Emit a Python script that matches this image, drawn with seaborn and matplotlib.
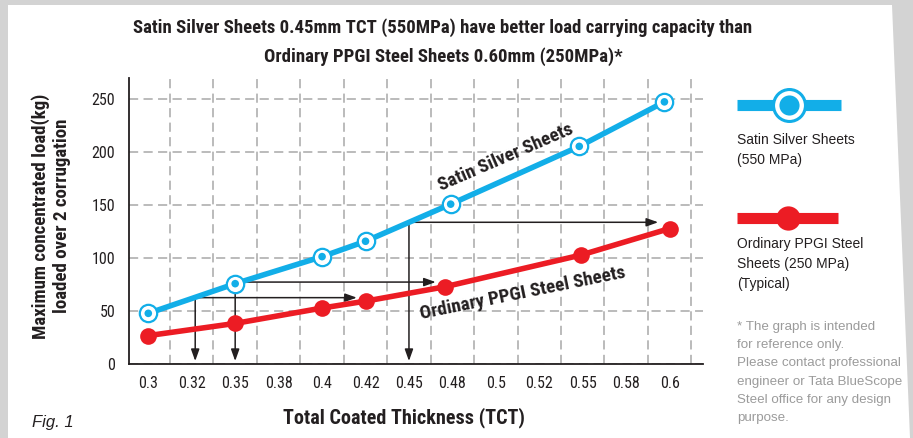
import numpy as np
import pandas as pd
import matplotlib
matplotlib.use("Agg")
import matplotlib.pyplot as plt
from matplotlib import font_manager
from matplotlib.patches import Polygon
from matplotlib.lines import Line2D
import seaborn as sns

# ---- data ----
thk_satin = [0.3, 0.35, 0.4, 0.425, 0.474, 0.548, 0.597]
load_satin = [47.5, 75.5, 101, 115.5, 150.5, 205, 247]
thk_ppgi = [0.3, 0.35, 0.4, 0.425, 0.4705, 0.549, 0.6]
load_ppgi = [26.5, 38, 52.5, 59, 72.5, 102.5, 127.5]
tick_pos = [0.3, 0.325, 0.35, 0.375, 0.4, 0.425, 0.45, 0.475, 0.5, 0.525, 0.55, 0.575, 0.6]
tick_labels = ["0.3", "0.32", "0.35", "0.38", "0.4", "0.42", "0.45", "0.48", "0.5", "0.52", "0.55", "0.58", "0.6"]
y_ticks = [0, 50, 100, 150, 200, 250]
# comparison arrows: (x, y, x_end)
arrows = [(0.327, 62.3, 0.42), (0.35, 77.0, 0.4654), (0.45, 133.4, 0.5934)]

sns.set_style("white")
names = {f.name for f in font_manager.fontManager.ttflist}
NARROW = "Liberation Sans"
for cand in ["Roboto Condensed", "Liberation Sans Narrow", "Archivo Narrow"]:
    if cand in names:
        NARROW = cand
        break
REG = "Liberation Sans"
plt.rcParams["font.family"] = [REG, "DejaVu Sans"]

BLUE = "#12aee8"
RED = "#ec1c24"
DARK = "#231f20"
GRID = "#a8a8a8"

W, H = 913, 438
fig = plt.figure(figsize=(W / 100, H / 100), dpi=100)

bg = fig.add_axes([0, 0, 1, 1], zorder=0)
bg.set_xlim(0, W)
bg.set_ylim(H, 0)
bg.axis("off")
bg.add_patch(plt.Rectangle((0, 0), W, H, color="#d3d3d3", zorder=0))
bg.add_patch(Polygon([(8, 5), (892, 5), (910, 438), (8, 438)], closed=True,
                     facecolor="white", edgecolor="none", zorder=1))

L, R, B, T = 129, 703, 363.7, 78
ax = fig.add_axes([L / W, (H - B) / H, (R - L) / W, (B - T) / H], zorder=2)
ax.set_facecolor("none")

df_s = pd.DataFrame({"thk": thk_satin, "load": load_satin})
df_p = pd.DataFrame({"thk": thk_ppgi, "load": load_ppgi})

sns.lineplot(data=df_s, x="thk", y="load", ax=ax, color=BLUE, lw=4, zorder=4,
             marker="o", markersize=12.5, markerfacecolor="white",
             markeredgecolor=BLUE, markeredgewidth=1.6)
sns.scatterplot(data=df_s, x="thk", y="load", ax=ax, color=BLUE, s=30,
                edgecolor="none", zorder=6)
sns.lineplot(data=df_p, x="thk", y="load", ax=ax, color=RED, lw=4, zorder=4,
             marker="o", markersize=12, markerfacecolor=RED,
             markeredgecolor=RED, markeredgewidth=0)

ax.set_xlim(0.2889, 0.6192)
ax.set_ylim(0, 269.5)
ax.set_xticks(tick_pos)
ax.set_xticklabels(tick_labels, fontfamily=NARROW, fontsize=11.5, color=DARK)
ax.set_xticks([p + 0.0125 for p in tick_pos], minor=True)
ax.set_yticks(y_ticks)
ax.set_yticklabels([str(v) for v in y_ticks], fontfamily=NARROW, fontsize=11.5, color=DARK)
ax.tick_params(axis="x", which="major", length=0, pad=9)
ax.tick_params(axis="x", which="minor", length=5, width=1, color=GRID, direction="out")
ax.tick_params(axis="y", which="major", length=6, width=1, color=GRID, pad=4)
ax.grid(axis="x", which="minor", color=GRID, ls=(0, (6, 3.5)), lw=1.1, zorder=0)
ax.grid(axis="y", which="major", color=GRID, ls=(0, (6, 3.5)), lw=1.1, zorder=0)
ax.set_axisbelow(True)
for s in ["top", "right"]:
    ax.spines[s].set_visible(False)
for s in ["left", "bottom"]:
    ax.spines[s].set_color(DARK)
    ax.spines[s].set_linewidth(1.3)

ax.set_xlabel("Total Coated Thickness (TCT)", fontfamily=NARROW, fontsize=14.5,
              fontweight="bold", color=DARK)
ax.xaxis.set_label_coords((404 - L) / (R - L), -(418 - B) / (B - T), transform=ax.transAxes)
ax.xaxis.label.set_va("center")
ax.set_ylabel("Maximum concentrated load(kg)\nloaded over 2 corrugation", fontfamily=NARROW,
              fontsize=13.6, fontweight="bold", color=DARK, linespacing=1.2)
ax.yaxis.set_label_coords(-(L - 51) / (R - L), (B - 216) / (B - T), transform=ax.transAxes)
ax.yaxis.label.set_va("center")

ap = dict(arrowstyle="-|>,head_length=0.7,head_width=0.25", color=DARK, lw=1.1,
          shrinkA=0, shrinkB=0)
for (x0, y0, x1) in arrows:
    ax.annotate("", xy=(x0, 2.5), xytext=(x0, y0), arrowprops=ap, zorder=3)
    ax.annotate("", xy=(x1, y0), xytext=(x0, y0), arrowprops=ap, zorder=3)

ax.text(0.5057, 195, "Satin Silver Sheets", rotation=23.5, rotation_mode="anchor",
        ha="center", va="center", fontfamily=NARROW, fontsize=13.8, fontweight="bold", color=DARK)
ax.text(0.5154, 66.2, "Ordinary PPGI Steel Sheets", rotation=11.5, rotation_mode="anchor",
        ha="center", va="center", fontfamily=NARROW, fontsize=13.8, fontweight="bold", color=DARK)

bg.text(443, 28, "Satin Silver Sheets 0.45mm TCT (550MPa) have better load carrying capacity than",
        ha="center", va="center", fontfamily=NARROW, fontsize=13.5, fontweight="bold", color=DARK, zorder=3)
bg.text(443, 57, "Ordinary PPGI Steel Sheets 0.60mm (250MPa)*",
        ha="center", va="center", fontfamily=NARROW, fontsize=13.5, fontweight="bold", color=DARK, zorder=3)

bg.text(32, 423, "Fig. 1", ha="left", va="center", fontsize=12, style="italic", color=DARK, zorder=3)

bg.add_line(Line2D([737, 841], [105, 105], color=BLUE, lw=8, solid_capstyle="butt", zorder=3))
bg.add_line(Line2D([789], [105], marker="o", markersize=23, markerfacecolor="white",
                   markeredgecolor=BLUE, markeredgewidth=2.2, zorder=4))
bg.add_line(Line2D([789], [105], marker="o", markersize=14.5, markerfacecolor=BLUE,
                   markeredgewidth=0, zorder=5))
bg.add_line(Line2D([737, 838], [218, 218], color=RED, lw=8, solid_capstyle="butt", zorder=3))
bg.add_line(Line2D([788], [218], marker="o", markersize=17.5, markerfacecolor=RED,
                   markeredgewidth=0, zorder=4))

for i, t in enumerate(["Satin Silver Sheets", "(550 MPa)"]):
    bg.text(737, 140 + 20 * i, t, ha="left", va="center", fontsize=10, color=DARK, zorder=3)
for i, t in enumerate(["Ordinary PPGI Steel", "Sheets (250 MPa)", "(Typical)"]):
    bg.text(737, 244 + 20 * i, t, ha="left", va="center", fontsize=10, color=DARK, zorder=3)
disc = ["* The graph is intended", "for reference only.", "Please contact professional",
        "engineer or Tata BlueScope", "Steel office for any design", "purpose."]
for i, t in enumerate(disc):
    bg.text(737, 327 + 18.2 * i, t, ha="left", va="center", fontsize=9.6, color="#9b9b9b", zorder=3)

fig.savefig("out.png", dpi=100)
